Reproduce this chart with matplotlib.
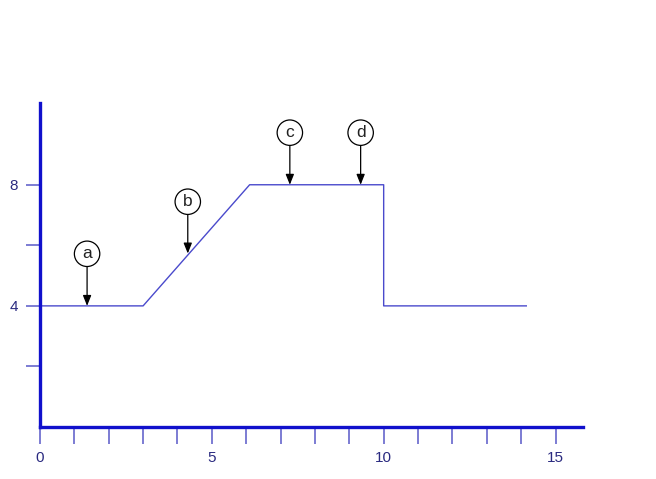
import matplotlib
matplotlib.use("Agg")
import matplotlib.pyplot as plt

# data
line_x = [0, 3, 6.1, 10, 10, 14.15]
line_y = [4, 4, 8, 8, 4, 4]
labels = ["a", "b", "c", "d"]
target_x = [1.37, 4.3, 7.27, 9.33]
target_y = [4.0, 5.73, 8.0, 8.0]
label_y = [5.72, 7.44, 9.72, 9.72]
xticks = list(range(0, 16))
xticklabels = ["0", "", "", "", "", "5", "", "", "", "", "10", "", "", "", "", "15"]
yticks = [2, 4, 6, 8]
yticklabels = ["", "4", "", "8"]

plt.rcParams['font.family'] = ['Liberation Sans', 'DejaVu Sans']

fig = plt.figure(figsize=(6.56, 4.79), dpi=100)
W, H = 656, 479
left, right = 40, 583
bottom, top = 427, 103
ax = fig.add_axes([left / W, 1 - bottom / H, (right - left) / W, (bottom - top) / H])
ax.set_xlim(0, 15.8)
ax.set_ylim(0, 10.7)

ax.plot(line_x, line_y, color='#4a4acc', lw=1.0)

for lab, tx, ty, ly in zip(labels, target_x, target_y, label_y):
    ax.annotate(lab, xy=(tx, ty), xytext=(tx, ly), ha='center', va='center',
                fontsize=12.5, color='#222222',
                bbox=dict(boxstyle='circle,pad=0.3', fc='white', ec='black', lw=0.9),
                arrowprops=dict(arrowstyle='-|>,head_length=0.5,head_width=0.2',
                                color='black', lw=0.9, shrinkA=0, shrinkB=0))

for s in ['top', 'right']:
    ax.spines[s].set_visible(False)
for s in ['left', 'bottom']:
    ax.spines[s].set_color('#1010cc')
    ax.spines[s].set_linewidth(2.4)

ax.set_xticks(xticks)
ax.set_xticklabels(xticklabels)
ax.set_yticks(yticks)
ax.set_yticklabels(yticklabels)
ax.tick_params(axis='both', direction='out', color='#6666cc', width=1.2,
               labelcolor='#2a2a80', labelsize=11)
ax.tick_params(axis='x', length=12, pad=5)
ax.tick_params(axis='y', length=10, pad=6)

fig.savefig('out.png', dpi=100)
